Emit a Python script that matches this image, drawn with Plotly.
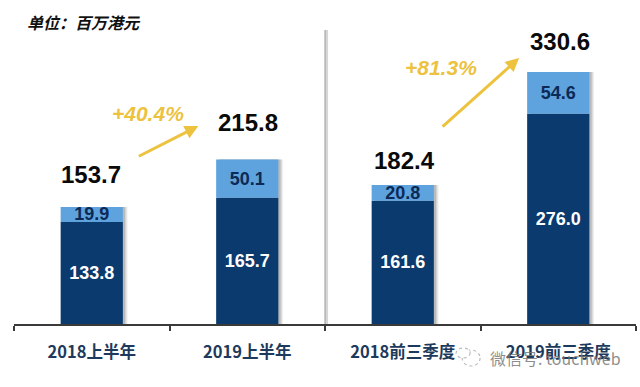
import plotly.graph_objects as go

categories = ["2018上半年", "2019上半年", "2018前三季度", "2019前三季度"]
lower_values = [133.8, 165.7, 161.6, 276.0]
upper_values = [19.9, 50.1, 20.8, 54.6]
total_labels = ["153.7", "215.8", "182.4", "330.6"]
total_values = [153.7, 215.8, 182.4, 330.6]
growth_labels = ["+40.4%", "+81.3%"]

W, H = 640, 387
L, R, B = 13.5, 4, 63
NAVY, SKY, GOLD = "#0b3a6e", "#5fa3de", "#ecc23e"
ARIAL = "Liberation Sans, Arial, sans-serif"
CJK = "Noto Sans CJK SC, sans-serif"

xs = list(range(len(categories)))
fig = go.Figure()

# soft drop shadow, offset slightly to the right of each full bar
for off, alpha in ((0.030, 0.10), (0.022, 0.16), (0.014, 0.22)):
    fig.add_bar(x=[v + off for v in xs], y=total_values, width=0.4,
                marker=dict(color=f"rgba(90,90,90,{alpha})", line_width=0),
                hoverinfo="skip", showlegend=False)

fig.add_bar(x=xs, y=lower_values, width=0.4, name="lower",
            marker=dict(color=NAVY, line_width=0),
            text=[f"{v:.1f}" for v in lower_values], textposition="inside",
            insidetextanchor="middle", constraintext="none", textangle=0,
            textfont=dict(family=ARIAL, size=18, color="white", weight="bold"),
            showlegend=False)
fig.add_bar(x=xs, y=upper_values, base=lower_values, width=0.4, name="upper",
            marker=dict(color=SKY, line_width=0),
            text=[f"{v:.1f}" for v in upper_values], textposition="inside",
            insidetextanchor="middle", constraintext="none", textangle=0,
            textfont=dict(family=ARIAL, size=18, color="#0c2a55", weight="bold"),
            showlegend=False)

annotations = []
# totals above the bars
for x, v, t, dy, dx in zip(xs, total_values, total_labels, (32, 37, 25, 31), (-1, 1, 1.5, 2)):
    annotations.append(dict(x=x, y=v, xref="x", yref="y", text=t, showarrow=False,
                            xanchor="center", yanchor="middle",
                            yshift=dy, xshift=dx, font=dict(family=ARIAL, size=24, color="#0a0a0a", weight="bold")))

def paper(px, py):
    # paper coordinates run over the plot area, not the whole page
    return (px - L) / (W - L - R), (H - B - py) / (H - B)

# growth labels
for t, (px, py) in zip(growth_labels, ((148, 113), (441, 67))):
    x, y = paper(px, py)
    annotations.append(dict(x=x, y=y, xref="paper", yref="paper", text=t, showarrow=False,
                            xanchor="center", yanchor="middle",
                            font=dict(family=ARIAL, size=21, color=GOLD, weight="bold", style="italic")))

# growth arrows
for (x0, y0), (x1, y1) in (((137, 157), (198, 126)), ((441, 128), (519, 58))):
    x, y = paper(x1, y1)
    annotations.append(dict(x=x, y=y, ax=x0 - x1, ay=y0 - y1, xref="paper", yref="paper",
                            axref="pixel", ayref="pixel", text="", showarrow=True,
                            arrowhead=2, arrowsize=0.9, arrowwidth=3, arrowcolor=GOLD))

# unit caption
x, y = paper(25, 22)
annotations.append(dict(x=x, y=y, xref="paper", yref="paper", xanchor="left", yanchor="middle", text="单位：百万港元",
                        showarrow=False, font=dict(family=CJK, size=16, color="#111", weight="bold", style="italic")))

# watermark
x, y = paper(488, 358)
annotations.append(dict(x=x, y=y, xref="paper", yref="paper", xanchor="left", yanchor="middle", text="微信号: touchweb",
                        showarrow=False, font=dict(family=CJK, size=16, color="rgba(120,120,120,0.85)")))

ic1a, ic1b = paper(462, 366), paper(480, 350)
ic2a, ic2b = paper(456, 358), paper(470, 348)
shapes = [
    dict(type="line", xref="x", yref="paper", x0=1.51, x1=1.51, y0=0, y1=paper(0, 30)[1],
         line=dict(color="#d6d6d6", width=3)),
    dict(type="line", xref="x", yref="paper", x0=1.5, x1=1.5, y0=0, y1=paper(0, 30)[1],
         line=dict(color="#999999", width=1)),
    # watermark chat-bubble icon outlines
    dict(type="circle", xref="paper", yref="paper", x0=ic1a[0], x1=ic1b[0], y0=ic1a[1], y1=ic1b[1],
         line=dict(color="#bdbdbd", width=1.2, dash="dot"), fillcolor="white"),
    dict(type="circle", xref="paper", yref="paper", x0=ic2a[0], x1=ic2b[0], y0=ic2a[1], y1=ic2b[1],
         line=dict(color="#bdbdbd", width=1.2, dash="dot"), fillcolor="white"),
]

fig.update_layout(
    width=W, height=H, barmode="overlay", plot_bgcolor="white", paper_bgcolor="white",
    margin=dict(l=L, r=R, t=0, b=B, pad=0), showlegend=False,
    annotations=annotations, shapes=shapes,
    xaxis=dict(range=[-0.5, 3.5], tickmode="array", tickvals=xs, ticktext=categories,
               ticks="", showgrid=False, zeroline=False, showline=True, linecolor="#3a3a3a", linewidth=1.5,
               ticklabelstandoff=12,
               tickfont=dict(family=CJK, size=16.5, color="#1d3a5c", weight="bold"),
               minor=dict(tick0=-0.5, dtick=1, ticks="outside", ticklen=5, tickcolor="#3a3a3a", tickwidth=1.5)),
    yaxis=dict(range=[0, 324 / 0.762], visible=False),
)
fig.write_html("out.html", config={"displayModeBar": False},
               post_script="document.body.style.margin='0';document.documentElement.style.overflow='hidden';")
